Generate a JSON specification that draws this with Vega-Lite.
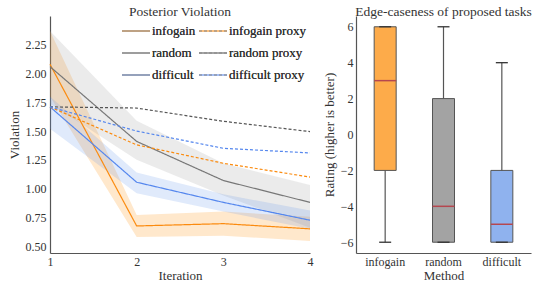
{
  "$schema": "https://vega.github.io/schema/vega-lite/v6.json",
  "padding": {"left": 8, "top": 4, "right": 2, "bottom": 0},
  "spacing": 10,
  "config": {
    "font": "Liberation Serif",
    "view": {"stroke": null},
    "axis": {"grid": false, "ticks": false, "domainColor": "#555", "domainWidth": 1.2, "labelColor": "#333", "titleColor": "#333", "labelFontSize": 12, "titleFontSize": 13, "titleFontWeight": "normal", "labelPadding": 4, "titlePadding": 4, "labelOverlap": false, "labelFlush": false},
    "axisX": {"labelPadding": 3, "titlePadding": 2},
    "title": {"fontSize": 13.5, "fontWeight": "normal", "color": "#333", "offset": -2},
    "legend": {"labelFontSize": 13, "labelColor": "#333", "labelFontWeight": "normal"}
  },
  "datasets": {
    "lines": [
      {"iteration": 1, "series": "infogain", "value": 2.08},
      {"iteration": 2, "series": "infogain", "value": 0.675},
      {"iteration": 3, "series": "infogain", "value": 0.695},
      {"iteration": 4, "series": "infogain", "value": 0.65},
      {"iteration": 1, "series": "random", "value": 2.06},
      {"iteration": 2, "series": "random", "value": 1.41},
      {"iteration": 3, "series": "random", "value": 1.07},
      {"iteration": 4, "series": "random", "value": 0.88},
      {"iteration": 1, "series": "difficult", "value": 1.71},
      {"iteration": 2, "series": "difficult", "value": 1.055},
      {"iteration": 3, "series": "difficult", "value": 0.88},
      {"iteration": 4, "series": "difficult", "value": 0.725},
      {"iteration": 1, "series": "infogain proxy", "value": 1.71},
      {"iteration": 2, "series": "infogain proxy", "value": 1.38},
      {"iteration": 3, "series": "infogain proxy", "value": 1.22},
      {"iteration": 4, "series": "infogain proxy", "value": 1.1},
      {"iteration": 1, "series": "random proxy", "value": 1.71},
      {"iteration": 2, "series": "random proxy", "value": 1.7},
      {"iteration": 3, "series": "random proxy", "value": 1.585},
      {"iteration": 4, "series": "random proxy", "value": 1.495},
      {"iteration": 1, "series": "difficult proxy", "value": 1.71},
      {"iteration": 2, "series": "difficult proxy", "value": 1.5},
      {"iteration": 3, "series": "difficult proxy", "value": 1.35},
      {"iteration": 4, "series": "difficult proxy", "value": 1.31}
    ],
    "bands": [
      {"iteration": 1, "method": "infogain", "lo": 1.8, "hi": 2.37},
      {"iteration": 2, "method": "infogain", "lo": 0.58, "hi": 0.77},
      {"iteration": 3, "method": "infogain", "lo": 0.59, "hi": 0.8},
      {"iteration": 4, "method": "infogain", "lo": 0.545, "hi": 0.755},
      {"iteration": 1, "method": "random", "lo": 1.74, "hi": 2.37},
      {"iteration": 2, "method": "random", "lo": 1.25, "hi": 1.59},
      {"iteration": 3, "method": "random", "lo": 0.94, "hi": 1.22},
      {"iteration": 4, "method": "random", "lo": 0.66, "hi": 1.03},
      {"iteration": 1, "method": "difficult", "lo": 1.52, "hi": 1.8},
      {"iteration": 2, "method": "difficult", "lo": 0.96, "hi": 1.14},
      {"iteration": 3, "method": "difficult", "lo": 0.8, "hi": 0.95},
      {"iteration": 4, "method": "difficult", "lo": 0.65, "hi": 0.81}
    ],
    "box": [
      {"method": "infogain", "min": -6, "q1": -2, "median": 3, "q3": 6, "max": 6},
      {"method": "random", "min": -6, "q1": -6, "median": -4, "q3": 2, "max": 6},
      {"method": "difficult", "min": -6, "q1": -6, "median": -5, "q3": -2, "max": 4}
    ]
  },
  "hconcat": [
    {
      "width": 260,
      "height": 237,
      "title": "Posterior Violation",
      "layer": [
        {
          "data": {"name": "bands"},
          "mark": {"type": "area", "opacity": 0.2},
          "encoding": {
            "x": {"field": "iteration", "type": "quantitative", "scale": {"domain": [1, 4], "nice": false, "zero": false}, "axis": {"title": "Iteration", "values": [1, 2, 3, 4], "format": "d"}},
            "y": {"field": "lo", "type": "quantitative", "scale": {"domain": [0.44, 2.5], "nice": false, "zero": false}, "axis": {"title": "Violation", "values": [0.5, 0.75, 1.0, 1.25, 1.5, 1.75, 2.0, 2.25], "format": ".2f"}},
            "y2": {"field": "hi"},
            "color": {"field": "method", "type": "nominal", "scale": {"domain": ["infogain", "random", "difficult"], "range": ["#ff8c00", "#999999", "#6495ed"]}, "legend": null}
          }
        },
        {
          "data": {"name": "lines"},
          "mark": {"type": "line", "strokeWidth": 1.2},
          "encoding": {
            "x": {"field": "iteration", "type": "quantitative", "axis": {"title": "Iteration", "values": [1, 2, 3, 4], "format": "d"}},
            "y": {"field": "value", "type": "quantitative", "axis": {"title": "Violation", "values": [0.5, 0.75, 1.0, 1.25, 1.5, 1.75, 2.0, 2.25], "format": ".2f"}},
            "color": {
              "field": "series", "type": "nominal",
              "scale": {"domain": ["infogain", "random", "difficult", "infogain proxy", "random proxy", "difficult proxy"], "range": ["#fb8b0f", "#777777", "#5587ee", "#fb8b0f", "#555555", "#5587ee"]},
              "legend": {"orient": "none", "legendX": 71, "legendY": 0, "columns": 2, "title": null, "symbolType": "stroke", "symbolSize": 784, "symbolStrokeWidth": 1.5, "symbolOpacity": 0.7, "labelOffset": 1, "rowPadding": -7, "columnPadding": 0}
            },
            "strokeDash": {
              "field": "series", "type": "nominal",
              "scale": {"domain": ["infogain", "random", "difficult", "infogain proxy", "random proxy", "difficult proxy"], "range": [[1, 0], [1, 0], [1, 0], [3, 2], [3, 2], [3, 2]]},
              "legend": {"orient": "none", "legendX": 71, "legendY": 0, "columns": 2, "title": null, "symbolType": "stroke", "symbolSize": 784, "symbolStrokeWidth": 1.5, "symbolOpacity": 0.7, "labelOffset": 1, "rowPadding": -7, "columnPadding": 0}
            }
          }
        }
      ],
      "resolve": {"scale": {"color": "independent"}}
    },
    {
      "width": 175,
      "height": 237,
      "title": "Edge-caseness of proposed tasks",
      "data": {"name": "box"},
      "encoding": {
        "x": {"field": "method", "type": "nominal", "sort": ["infogain", "random", "difficult"], "scale": {"paddingInner": 0.4, "paddingOuter": 0.2}, "axis": {"title": "Method", "labelAngle": 0}}
      },
      "layer": [
        {
          "mark": {"type": "rule", "color": "#555", "strokeWidth": 1.2},
          "encoding": {
            "y": {"field": "min", "type": "quantitative", "scale": {"domain": [-6.6, 6.6], "nice": false}, "axis": {"title": "Rating (higher is better)", "values": [-6, -4, -2, 0, 2, 4, 6], "labelPadding": 3, "labelOverlap": false}},
            "y2": {"field": "max"}
          }
        },
        {
          "mark": {"type": "bar", "size": 22, "stroke": "#555", "strokeWidth": 1},
          "encoding": {
            "y": {"field": "q1", "type": "quantitative", "axis": {"title": "Rating (higher is better)", "values": [-6, -4, -2, 0, 2, 4, 6], "labelPadding": 3, "labelOverlap": false}},
            "y2": {"field": "q3"},
            "color": {"field": "method", "type": "nominal", "scale": {"domain": ["infogain", "random", "difficult"], "range": ["#fdab4a", "#a3a3a3", "#8fb2ee"]}, "legend": null}
          }
        },
        {
          "mark": {"type": "tick", "color": "#b5474f", "opacity": 1, "size": 22, "thickness": 1.5},
          "encoding": {"y": {"field": "median", "type": "quantitative", "axis": {"title": "Rating (higher is better)", "values": [-6, -4, -2, 0, 2, 4, 6], "labelPadding": 3, "labelOverlap": false}}}
        },
        {
          "mark": {"type": "tick", "color": "#333", "opacity": 1, "size": 12, "thickness": 1.3},
          "encoding": {"y": {"field": "min", "type": "quantitative", "axis": {"title": "Rating (higher is better)", "values": [-6, -4, -2, 0, 2, 4, 6], "labelPadding": 3, "labelOverlap": false}}}
        },
        {
          "mark": {"type": "tick", "color": "#333", "opacity": 1, "size": 12, "thickness": 1.3},
          "encoding": {"y": {"field": "max", "type": "quantitative", "axis": {"title": "Rating (higher is better)", "values": [-6, -4, -2, 0, 2, 4, 6], "labelPadding": 3, "labelOverlap": false}}}
        }
      ]
    }
  ]
}
